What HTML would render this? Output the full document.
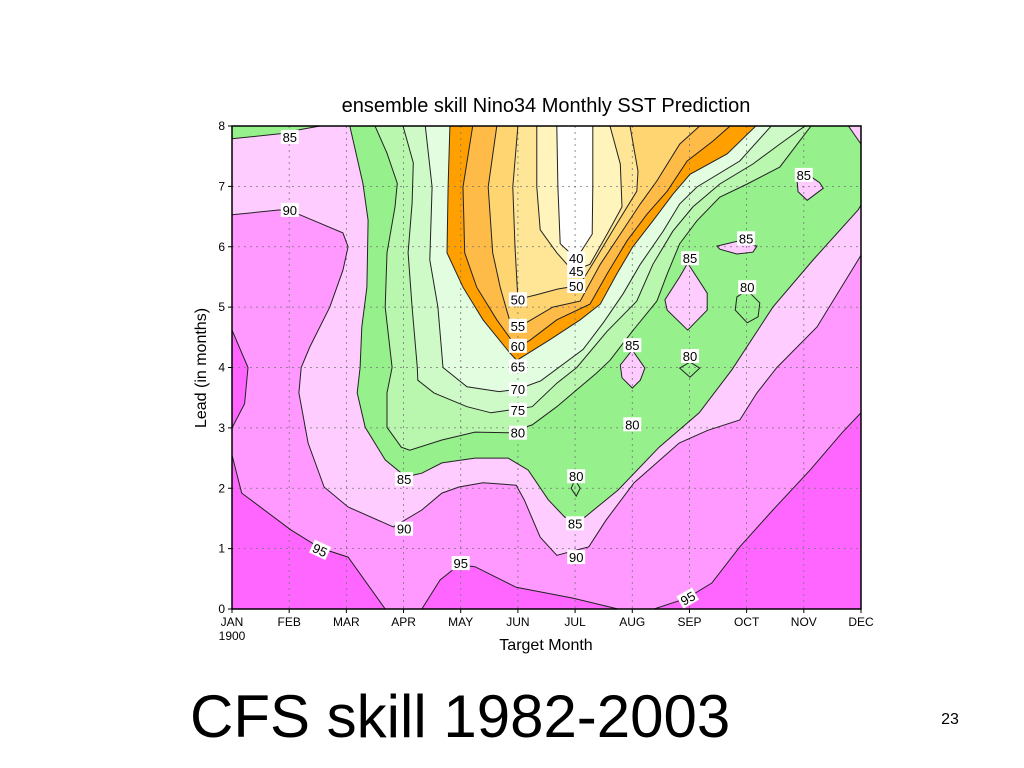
<!DOCTYPE html>
<html><head><meta charset="utf-8"><style>
html,body{margin:0;padding:0;background:#fff;width:1024px;height:768px;overflow:hidden}
svg{display:block}
text{font-family:"Liberation Sans",sans-serif}
</style></head><body>
<svg id="chart" width="1024" height="768" viewBox="0 0 1024 768" xmlns="http://www.w3.org/2000/svg">
<text x="546" y="112" font-size="20" text-anchor="middle">ensemble skill Nino34 Monthly SST Prediction</text>
<g id="fills"></g>
<g id="grid"></g>
<g id="lines"></g>
<g id="labels"></g>
<rect x="232" y="126" width="629" height="483" fill="none" stroke="#000" stroke-width="1.5"/>
<g id="axes"></g>
<text x="546" y="650" font-size="16" text-anchor="middle">Target Month</text>
<text x="0" y="0" font-size="16" text-anchor="middle" transform="translate(206,368) rotate(-90)">Lead (in months)</text>
<text x="190" y="737" font-size="60">CFS skill 1982-2003</text>
<text x="950" y="724" font-size="16" text-anchor="middle">23</text>
</svg>
<script>
const months = ["JAN","FEB","MAR","APR","MAY","JUN","JUL","AUG","SEP","OCT","NOV","DEC"];
const leadTicks = [0,1,2,3,4,5,6,7,8];
const bandColors = {c95:"#ff66ff", c90:"#ff99ff", c85:"#ffccff", c80:"#96f08c", c75:"#b9f6ae", c70:"#cdfac6", c65:"#e3fde0", c60:"#ffa000", c55:"#ffbb48", c50:"#ffd571", c45:"#ffe697", c40:"#fff4bb", c0:"#ffffff"};
const region95a = [[0,2.55],[0.17,1.92],[1.03,1.31],[1.54,1.01],[2.03,0.86],[2.68,0],[0,0]];
const region95b = [[3.32,0],[3.64,0.48],[3.97,0.73],[4.25,0.70],[4.97,0.36],[5.96,0.18],[6.75,0]];
const region95c = [[7.38,0],[7.96,0.18],[8.39,0.43],[8.88,1.03],[9.46,1.64],[10.11,2.30],[10.67,2.92],[11,3.25],[11,0]];
const region95d = [[0,4.62],[0.28,4.0],[0.22,3.4],[0,3.0]];
const region90 = [[0,6.53],[0.84,6.61],[1.19,6.53],[1.94,6.23],[2.03,6.0],[1.94,5.61],[1.71,5.0],[1.36,4.34],[1.21,4.0],[1.17,3.58],[1.33,2.75],[1.61,2.02],[2.03,1.69],[2.82,1.36],[3.32,1.64],[3.67,1.92],[3.97,2.02],[4.39,2.09],[4.97,2.05],[5.11,1.81],[5.39,1.19],[5.68,0.89],[6.24,1.03],[6.54,1.47],[7.03,2.09],[7.82,2.75],[8.32,2.96],[8.88,3.13],[9.18,3.58],[9.53,4.0],[10.23,4.67],[10.95,5.78],[11,5.86],[11,8],[0,8]];
const region85a = [[0,7.79],[0.84,7.87],[1.19,7.94],[1.54,8],[0,8]];
const region85 = [[2.06,8],[2.29,7.05],[2.38,6.44],[2.36,5.33],[2.27,4.67],[2.24,4.0],[2.19,3.58],[2.33,3.01],[2.68,2.47],[3.04,2.19],[3.32,2.25],[3.67,2.42],[4.25,2.5],[4.83,2.5],[5.18,2.3],[5.53,1.81],[5.82,1.52],[6.17,1.52],[6.75,1.97],[7.47,2.68],[8.17,3.25],[8.74,3.96],[9.46,5.0],[10.16,5.78],[10.95,6.61],[11,6.69],[11,7.7],[10.78,8]];
const region80 = [[2.5,8],[2.71,7.55],[2.89,7.05],[2.85,6.66],[2.71,5.9],[2.68,5.0],[2.8,4.0],[2.71,3.58],[2.71,3.01],[2.96,2.68],[3.11,2.63],[3.67,2.8],[4.25,2.93],[4.83,2.92],[5.25,3.05],[5.68,3.35],[6.03,3.63],[6.38,3.91],[6.61,4.12],[7.0,4.6],[7.43,5.10],[7.61,5.55],[7.83,6.05],[8.13,6.43],[8.53,6.82],[9.01,7.04],[9.58,7.32],[10.11,7.98],[10.12,8]];
const region75 = [[2.99,8],[3.17,7.39],[3.15,6.72],[3.08,5.9],[3.15,5.0],[3.24,4.0],[3.25,3.79],[3.53,3.58],[4.11,3.35],[4.53,3.25],[5.25,3.35],[5.68,3.74],[6.03,4.0],[6.56,4.6],[7.08,5.10],[7.36,5.71],[7.71,6.26],[8.06,6.66],[8.53,7.04],[9.11,7.37],[9.58,7.70],[10.02,8]];
const region70 = [[3.38,8],[3.5,6.99],[3.46,5.78],[3.6,5.0],[3.69,4.0],[4.11,3.68],[4.67,3.6],[5.0,3.64],[5.4,3.78],[6.14,4.3],[6.5,4.75],[6.84,5.22],[7.14,5.71],[7.54,6.26],[7.83,6.71],[8.13,6.99],[8.88,7.42],[9.43,8]];
const region65 = [[3.81,8],[3.78,6.99],[3.76,5.9],[4.04,5.33],[4.39,4.79],[4.86,4.24],[4.98,4.12],[5.56,4.46],[6.09,4.79],[6.44,5.05],[6.73,5.55],[7.01,6.0],[7.36,6.43],[7.71,6.87],[8.01,7.20],[8.66,7.54],[9.16,8]];
const region60 = [[4.21,8],[4.04,6.99],[4.07,5.9],[4.28,5.33],[4.63,4.79],[4.91,4.42],[5.0,4.33],[5.21,4.45],[5.68,4.79],[6.26,5.05],[6.56,5.55],[6.91,6.10],[7.26,6.54],[7.61,6.92],[7.96,7.42],[8.41,7.75],[8.71,8]];
const region55 = [[4.63,8],[4.48,6.99],[4.56,5.9],[4.69,5.33],[4.85,4.8],[5.0,4.66],[5.16,4.75],[5.61,5.0],[6.09,5.10],[6.44,5.71],[6.79,6.21],[7.14,6.71],[7.43,7.09],[7.83,7.70],[8.18,8]];
const region50 = [[5.0,8],[4.91,6.99],[4.95,6.0],[5.0,5.13],[5.3,5.2],[5.7,5.3],[6.02,5.35],[6.09,5.38],[6.38,5.83],[6.73,6.38],[7.08,6.92],[7.10,7.25],[6.96,8]];
const region45 = [[5.33,8],[5.33,6.99],[5.39,6.28],[5.68,5.9],[5.96,5.6],[6.26,5.71],[6.56,6.21],[6.82,6.66],[6.79,7.37],[6.61,8]];
const region40 = [[5.68,8],[5.70,6.99],[5.74,6.05],[5.91,5.9],[6.09,5.9],[6.30,6.21],[6.31,7.0],[6.31,8]];
const island85a = [[9.88,7.11],[10.11,7.17],[10.28,7.06],[10.34,6.97],[10.06,6.77],[9.9,6.91]];
const island85b = [[8.48,6.01],[8.88,6.10],[9.18,6.01],[9.11,5.91],[8.83,5.88],[8.53,5.96]];
const island85c = [[7.97,5.73],[8.31,5.23],[8.31,4.95],[7.97,4.62],[7.61,4.95],[7.57,5.12],[7.83,5.5]];
const island85d = [[7.0,4.29],[7.22,3.99],[7.14,3.79],[7.0,3.66],[6.82,3.83],[6.79,4.04]];
const loop80a = [[9.01,5.28],[9.23,5.07],[9.2,4.84],[9.01,4.74],[8.8,4.95],[8.83,5.17]];
const loop80b = [[8.01,4.09],[8.18,3.99],[8.01,3.84],[7.83,3.99]];
const loop80c = [[6.0,2.14],[6.09,2.0],[6.02,1.87],[5.93,2.0]];
const labelPos = [[1.01,7.82],[1.01,6.61],[10.0,7.19],[8.99,6.14],[8.01,5.81],[9.01,5.33],[5.0,5.13],[6.02,5.81],[6.02,5.6],[6.02,5.35],[5.0,4.69],[5.0,4.36],[5.0,4.02],[5.0,3.64],[5.0,3.30],[5.0,2.92],[7.0,4.37],[8.01,4.19],[7.0,3.06],[6.02,2.2],[3.01,2.15],[6.0,1.42],[3.01,1.33],[6.02,0.86],[1.54,0.98],[4.0,0.76],[7.97,0.18]];
const labelText = ["85","90","85","85","85","80","50","40","45","50","55","60","65","70","75","80","85","80","80","80","85","85","90","90","95","95","95"];
const labelRot = [0,0,0,0,0,0,0,0,0,0,0,0,0,0,0,0,0,0,0,0,0,0,0,0,25,0,-30];

const X0=232,X1=861,Y0=609,Y1=126;
function xS(m){return X0+m*(X1-X0)/11;}
function yS(l){return Y0-l*(Y0-Y1)/8;}
const NS="http://www.w3.org/2000/svg";
function pts(a){return a.map(p=>xS(p[0]).toFixed(1)+","+yS(p[1]).toFixed(1)).join(" ");}
const fills=document.getElementById("fills"), lines=document.getElementById("lines");
function band(arr,color,name,stroke){
  const p=document.createElementNS(NS,"polygon");
  p.setAttribute("points",pts(arr));
  p.setAttribute("fill",color);
  p.setAttribute("stroke","none");
  
  
  fills.appendChild(p);
  if(stroke){
    const q=document.createElementNS(NS,"polygon");
    q.setAttribute("points",pts(arr));
    q.setAttribute("fill","none");
    q.setAttribute("stroke","#222");
    q.setAttribute("stroke-width","1");
    
    
    lines.appendChild(q);
  }
}
const bg=document.createElementNS(NS,"rect");
bg.setAttribute("x",X0);bg.setAttribute("y",Y1);bg.setAttribute("width",X1-X0);bg.setAttribute("height",Y0-Y1);bg.setAttribute("fill",bandColors.c90);


fills.appendChild(bg);
band(region95a,bandColors.c95,"region-above-95-left",true);
band(region95b,bandColors.c95,"region-above-95-mid",true);
band(region95c,bandColors.c95,"region-above-95-right",true);
band(region95d,bandColors.c95,"region-above-95-edge",true);
band(region90,bandColors.c85,"region-below-90",true);
band(region85a,bandColors.c80,"region-below-85-corner",true);
band(region85,bandColors.c80,"region-below-85",true);
band(region80,bandColors.c75,"region-below-80",true);
band(region75,bandColors.c70,"region-below-75",true);
band(region70,bandColors.c65,"region-below-70",true);
band(region65,bandColors.c60,"region-below-65",true);
band(region60,bandColors.c55,"region-below-60",true);
band(region55,bandColors.c50,"region-below-55",true);
band(region50,bandColors.c45,"region-below-50",true);
band(region45,bandColors.c40,"region-below-45",true);
band(region40,bandColors.c0,"region-below-40",true);
band(island85a,bandColors.c85,"island-85-nov",true);
band(island85b,bandColors.c85,"island-85-oct",true);
band(island85c,bandColors.c85,"island-85-sep",true);
band(island85d,bandColors.c85,"island-85-aug",true);
[loop80a,loop80b,loop80c].forEach(function(a,i){
  const q=document.createElementNS(NS,"polygon");
  q.setAttribute("points",pts(a));
  q.setAttribute("fill","none");
  q.setAttribute("stroke","#222");
  
  
  lines.appendChild(q);
});
// grid
const grid=document.getElementById("grid");
months.forEach(function(mn,i){
  if(i===0||i===11) return;
  const l=document.createElementNS(NS,"line");
  l.setAttribute("x1",xS(i));l.setAttribute("x2",xS(i));l.setAttribute("y1",Y1);l.setAttribute("y2",Y0);
  l.setAttribute("stroke","#777");l.setAttribute("stroke-dasharray","2,4");l.setAttribute("stroke-width","0.8");
  
  
  grid.appendChild(l);
});
leadTicks.forEach(function(t){
  if(t===0||t===8) return;
  const l=document.createElementNS(NS,"line");
  l.setAttribute("x1",X0);l.setAttribute("x2",X1);l.setAttribute("y1",yS(t));l.setAttribute("y2",yS(t));
  l.setAttribute("stroke","#777");l.setAttribute("stroke-dasharray","2,4");l.setAttribute("stroke-width","0.8");
  
  
  grid.appendChild(l);
});
// axes
const axes=document.getElementById("axes");
months.forEach(function(mn,i){
  const tk=document.createElementNS(NS,"line");
  tk.setAttribute("x1",xS(i));tk.setAttribute("x2",xS(i));tk.setAttribute("y1",Y0);tk.setAttribute("y2",Y0+4);tk.setAttribute("stroke","#000");
  
  
  axes.appendChild(tk);
  const t=document.createElementNS(NS,"text");
  t.setAttribute("x",xS(i));t.setAttribute("y",Y0+17);t.setAttribute("font-size","12");t.setAttribute("text-anchor","middle");
  t.textContent=mn;
  
  
  axes.appendChild(t);
});
const yr=document.createElementNS(NS,"text");
yr.setAttribute("x",xS(0));yr.setAttribute("y",Y0+31);yr.setAttribute("font-size","12");yr.setAttribute("text-anchor","middle");
yr.textContent="1900";


axes.appendChild(yr);
leadTicks.forEach(function(v){
  const tk=document.createElementNS(NS,"line");
  tk.setAttribute("x1",X0-4);tk.setAttribute("x2",X0);tk.setAttribute("y1",yS(v));tk.setAttribute("y2",yS(v));tk.setAttribute("stroke","#000");
  
  
  axes.appendChild(tk);
  const t=document.createElementNS(NS,"text");
  t.setAttribute("x",X0-7);t.setAttribute("y",yS(v)+4);t.setAttribute("font-size","12");t.setAttribute("text-anchor","end");
  t.textContent=String(v);
  
  
  axes.appendChild(t);
});
// contour labels
const lg=document.getElementById("labels");
labelPos.forEach(function(p,i){
  const g=document.createElementNS(NS,"g");
  g.setAttribute("transform","translate("+xS(p[0]).toFixed(1)+","+yS(p[1]).toFixed(1)+") rotate("+labelRot[i]+")");
  
  
  const r=document.createElementNS(NS,"rect");
  r.setAttribute("x",-9);r.setAttribute("y",-7);r.setAttribute("width",18);r.setAttribute("height",14);r.setAttribute("fill","#fff");
  g.appendChild(r);
  const t=document.createElementNS(NS,"text");
  t.setAttribute("x",0);t.setAttribute("y",5);t.setAttribute("font-size","13");t.setAttribute("text-anchor","middle");
  t.textContent=labelText[i];
  g.appendChild(t);
  lg.appendChild(g);
});
</script>
</body></html>
